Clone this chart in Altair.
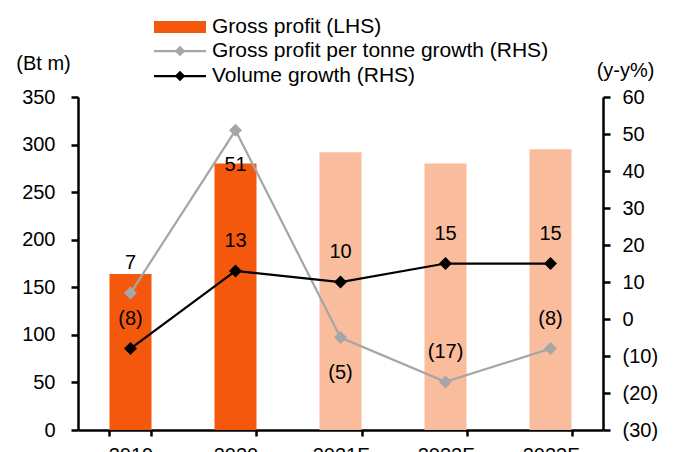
import altair as alt
import pandas as pd

# ---- data ----
years = ["2019", "2020", "2021F", "2022F", "2023F"]
gross_profit = [164, 280, 292, 280, 295]            # Bt m (LHS)
gp_tonne_growth = [7, 51, -5, -17, -8]              # y-y% (RHS)
volume_growth = [-8, 13, 10, 15, 15]                # y-y% (RHS)
bar_kind = ["Actual", "Actual", "Forecast", "Forecast", "Forecast"]
gp_label_side = ["above", "below", "below", "above", "above"]
vol_label_side = ["above", "above", "above", "above", "above"]
legend_labels = ["Gross profit (LHS)", "Gross profit per tonne growth (RHS)", "Volume growth (RHS)"]
left_ticks = [0, 50, 100, 150, 200, 250, 300, 350]
right_ticks = [-30, -20, -10, 0, 10, 20, 30, 40, 50, 60]

ORANGE = "#F4580C"
LIGHT = "#F9BC9C"
GREY = "#A6A6A6"
BLACK = "#000000"
FONT = "Liberation Sans"
FS = 20
LFS = 21


def paren(v):
    return f"({abs(v)})" if v < 0 else str(v)


bars_df = pd.DataFrame({"year": years, "gross_profit": gross_profit, "kind": bar_kind})
gp_df = pd.DataFrame({"year": years, "value": gp_tonne_growth,
                      "label": [paren(v) for v in gp_tonne_growth], "side": gp_label_side})
vol_df = pd.DataFrame({"year": years, "value": volume_growth,
                       "label": [paren(v) for v in volume_growth], "side": vol_label_side})

axis_style = dict(domainColor=BLACK, tickColor=BLACK, domainWidth=2.5, tickWidth=2.5,
                  labelFont=FONT, labelFontSize=FS, labelColor=BLACK, grid=False)

x_enc = alt.X("year:N", sort=years,
              scale=alt.Scale(paddingInner=0.6, paddingOuter=0.3),
              axis=alt.Axis(title=None, labelAngle=0, tickBand="extent", labelPadding=9,
                            tickSize=6, **axis_style))

bars = alt.Chart(bars_df).mark_bar().encode(
    x=x_enc,
    y=alt.Y("gross_profit:Q",
            scale=alt.Scale(domain=[0, 350], nice=False),
            axis=alt.Axis(orient="left", values=left_ticks, title="(Bt m)",
                          titleAngle=0, titleX=-35, titleY=-34, titleAlign="center",
                          titleBaseline="middle", titleFontWeight="normal", titleFontSize=FS,
                          titleFont=FONT, titleColor=BLACK, labelPadding=16, tickSize=7,
                          **axis_style)),
    color=alt.Color("kind:N", scale=alt.Scale(domain=["Actual", "Forecast"], range=[ORANGE, LIGHT]),
                    legend=None),
)

y_right = alt.Y("value:Q",
                scale=alt.Scale(domain=[-30, 60], nice=False, zero=False),
                axis=alt.Axis(orient="right", values=right_ticks, title="(y-y%)",
                              labelExpr="datum.value < 0 ? '(' + abs(datum.value) + ')' : datum.value",
                              titleAngle=0, titleX=22, titleY=-27, titleAlign="center",
                              titleBaseline="middle", titleFontWeight="normal",
                              titleFontSize=FS, titleFont=FONT, titleColor=BLACK,
                              labelPadding=12, tickSize=7, **axis_style))


def series_layers(df, color):
    base = alt.Chart(df)
    line = base.mark_line(color=color, strokeWidth=2.25).encode(x=x_enc, y=y_right)
    pts = base.mark_point(shape="diamond", filled=True, size=170, color=color, opacity=1).encode(
        x=x_enc, y=y_right)
    above = base.transform_filter(alt.datum.side == "above").mark_text(
        dy=-30, font=FONT, fontSize=FS, color=BLACK, baseline="middle").encode(
        x=x_enc, y=y_right, text="label:N")
    below = base.transform_filter(alt.datum.side == "below").mark_text(
        dy=35, font=FONT, fontSize=FS, color=BLACK, baseline="middle").encode(
        x=x_enc, y=y_right, text="label:N")
    return [line, pts, above, below]


gp_layers = series_layers(gp_df, GREY)
vol_layers = series_layers(vol_df, BLACK)
right_layer = alt.layer(gp_layers[0], vol_layers[0], gp_layers[1], vol_layers[1],
                        gp_layers[2], gp_layers[3], vol_layers[2], vol_layers[3])

# ---- legend (drawn manually above the plot) ----
leg_rows_y = [-70, -46, -21]
leg_x0, leg_x1, leg_tx = 76, 128, 134
legend_parts = []
legend_parts.append(
    alt.Chart(pd.DataFrame({"k": [0]})).mark_rect(color=ORANGE).encode(
        x=alt.value(leg_x0), x2=alt.value(leg_x1),
        y=alt.value(leg_rows_y[0] - 6), y2=alt.value(leg_rows_y[0] + 6)))
for row, col in [(1, GREY), (2, BLACK)]:
    legend_parts.append(
        alt.Chart(pd.DataFrame({"k": [0]})).mark_rule(color=col, strokeWidth=2.25).encode(
            x=alt.value(leg_x0), x2=alt.value(leg_x1), y=alt.value(leg_rows_y[row])))
    legend_parts.append(
        alt.Chart(pd.DataFrame({"k": [0]})).mark_point(shape="diamond", filled=True, size=110,
                                                       color=col, opacity=1).encode(
            x=alt.value((leg_x0 + leg_x1) / 2), y=alt.value(leg_rows_y[row])))
for row, lab in enumerate(legend_labels):
    legend_parts.append(
        alt.Chart(pd.DataFrame({"t": [lab]})).mark_text(
            align="left", baseline="middle", font=FONT, fontSize=LFS, color=BLACK).encode(
            x=alt.value(leg_tx), y=alt.value(leg_rows_y[row]), text="t:N"))

chart = alt.layer(bars, right_layer, *legend_parts).resolve_scale(y="independent").properties(
    width=525, height=333,
    padding={"left": 70, "top": 89, "right": 64, "bottom": 40},
    autosize=alt.AutoSizeParams(type="none"),
).configure_view(stroke=None)

chart.save("out.html", embed_options={"renderer": "svg", "actions": False})
